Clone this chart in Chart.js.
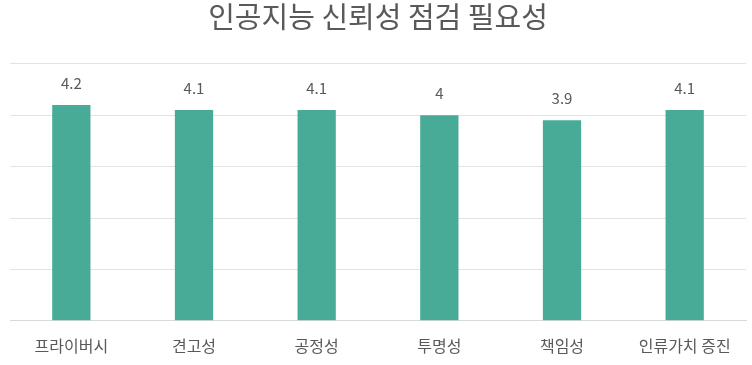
<!DOCTYPE html>
<html><head><meta charset="utf-8">
<script src="https://cdn.jsdelivr.net/npm/chart.js@4"></script>
<style>html,body{margin:0;padding:0;background:#fff}#wrap{width:752px;height:365px}</style>
</head><body><div id="wrap"><canvas id="c"></canvas></div>
<script>
const categories = ['프라이버시','견고성','공정성','투명성','책임성','인류가치 증진'];
const values = [4.2, 4.1, 4.1, 4, 3.9, 4.1];
const yTicks = [0,1,2,3,4,5];
const FONT = "'Noto Sans CJK KR','Noto Sans',sans-serif";

const valueLabels = {
  id: 'valueLabels',
  afterDatasetsDraw(chart) {
    const ctx = chart.ctx;
    const meta = chart.getDatasetMeta(0);
    ctx.save();
    ctx.fillStyle = '#595959';
    ctx.font = "15px " + FONT;
    ctx.textAlign = 'center';
    ctx.textBaseline = 'alphabetic';
    meta.data.forEach((bar, i) => {
      ctx.fillText(String(values[i]), bar.x, bar.y - 16);
    });
    ctx.restore();
  }
};

new Chart(document.getElementById('c'), {
  type: 'bar',
  data: { labels: categories, datasets: [{ data: values, backgroundColor: '#48ab97', barPercentage: 0.39, categoryPercentage: 0.8 }] },
  options: {
    responsive: true, maintainAspectRatio: false, animation: false,
    layout: { padding: { left: 10, right: 6, top: 0, bottom: 1 } },
    plugins: {
      legend: { display: false }, tooltip: { enabled: false },
      title: { display: true, text: '인공지능 신뢰성 점검 필요성', color: '#595959',
        font: { family: FONT, size: 29, weight: 'normal' }, padding: { top: 0, bottom: 29 } }
    },
    scales: {
      x: { grid: { display: false }, border: { display: true, color: '#d9d9d9' },
        ticks: { color: '#595959', font: { family: FONT, size: 16 }, padding: 8, maxRotation: 0 } },
      y: { min: 0, max: 5, afterBuildTicks: (ax) => { ax.ticks = yTicks.map(v => ({ value: v })); },
        ticks: { display: false }, border: { display: false },
        grid: { color: '#e3e3e3', drawTicks: false } }
    }
  },
  plugins: [valueLabels]
});
</script></body></html>
